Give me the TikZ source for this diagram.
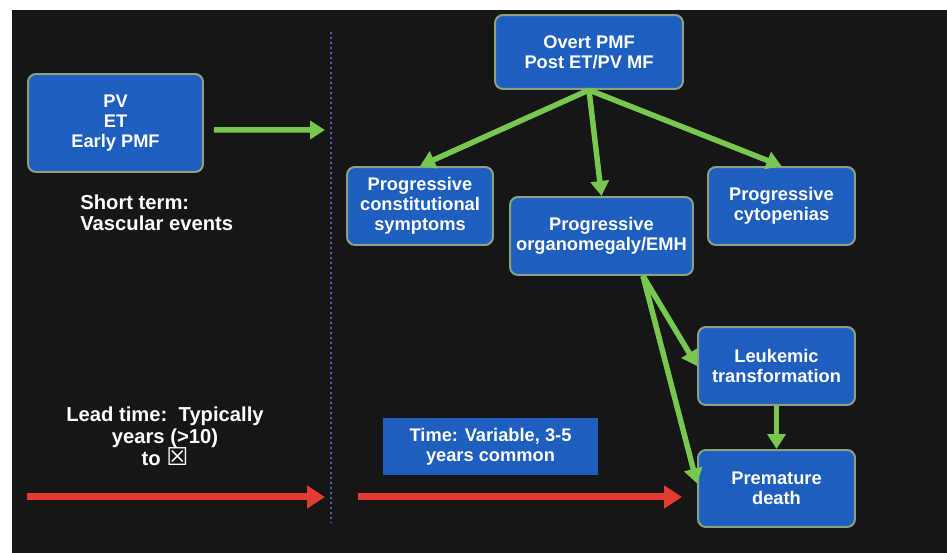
\documentclass[tikz,border=0pt]{standalone}
\usepackage{fontspec}
\setmainfont{Liberation Sans}
\newfontfamily\glyphfont{DejaVu Sans}
\usetikzlibrary{arrows.meta}
\definecolor{slideblack}{RGB}{22,22,22}
\definecolor{boxblue}{RGB}{30,94,190}
\definecolor{boxrim}{RGB}{140,160,130}
\definecolor{arrowgreen}{RGB}{120,200,80}
\definecolor{arrowred}{RGB}{226,60,50}
\definecolor{dotblue}{RGB}{70,100,180}
\tikzset{
  stagebox/.style={draw=boxrim, line width=0.04cm, fill=boxblue, rounded corners=0.16cm,
    text=white, font=\fontsize{10.4}{11.3}\selectfont\bfseries, align=center, inner sep=0pt},
  timebox/.style={fill=boxblue, text=white, font=\fontsize{10.4}{11.3}\selectfont\bfseries,
    align=center, inner sep=0pt},
  greenarrow/.style={draw=arrowgreen, line width=0.11cm, -{Triangle[length=0.3cm,width=0.36cm]}},
  redarrow/.style={draw=arrowred, line width=0.14cm, -{Triangle[length=0.36cm,width=0.44cm]}},
  slidetext/.style={text=white, font=\fontsize{11.5}{12.2}\selectfont\bfseries, inner sep=0pt}
}
\begin{document}
\begin{tikzpicture}[x=0.02cm,y=-0.02cm]
        \useasboundingbox (0,0) rectangle (947,553);
        % slide background
        \fill[slideblack] (12,10) rectangle (947,553);
        % divider
        \coordinate (divtop) at (331,32);
        \coordinate (divbot) at (331,522);
        \draw[dotblue, line width=0.05cm, dash pattern=on 0.04cm off 0.06cm] (divtop) -- (divbot);
        % left side
        \node[stagebox, minimum width=3.5cm, minimum height=1.96cm] (early) at (115.5,123) {PV\\ET\\Early PMF};
        \node[slidetext, anchor=west, align=left] (short) at (80,213) {Short term:\\Vascular events};
        \node[slidetext, align=center, font=\fontsize{11.5}{12.6}\selectfont\bfseries] (lead) at (165,436) {Lead time:\ \ Typically\\years (>10)\\to {\glyphfont\fontsize{14}{14}\selectfont ☒}};
        \coordinate (gtip) at (325,130);
        \draw[greenarrow] ([xshift=0.2cm,yshift=-0.14cm]early.east) -- (gtip);
        % time arrows
        \coordinate (leadtail) at (27,497);
        \coordinate (leadtip) at (325,497);
        \coordinate (vartail) at (358,497);
        \coordinate (vartip) at (682,497);
        \draw[redarrow] (leadtail) -- (leadtip);
        \draw[redarrow] (vartail) -- (vartip);
        \node[timebox, minimum width=4.3cm, minimum height=1.14cm] (vartime) at (490.5,446.5) {Time: Variable, 3-5\\years common};
        % right side
        \node[stagebox, minimum width=3.76cm, minimum height=1.48cm] (overt) at (589,52) {Overt PMF\\Post ET/PV MF};
        \node[stagebox, minimum width=2.92cm, minimum height=1.56cm] (const) at (420,206) {Progressive\\constitutional\\symptoms};
        \node[stagebox, minimum width=3.66cm, minimum height=1.56cm] (organo) at (601.5,236) {Progressive\\organomegaly/EMH};
        \node[stagebox, minimum width=2.94cm, minimum height=1.56cm] (cyto) at (781.5,206) {Progressive\\cytopenias};
        \node[stagebox, minimum width=3.14cm, minimum height=1.56cm] (leuk) at (776.5,366) {Leukemic\\transformation};
        \node[stagebox, minimum width=3.14cm, minimum height=1.54cm] (death) at (776.5,488.5) {Premature\\death};
        % progression
        \draw[greenarrow] (overt.south) -- (const.north);
        \draw[greenarrow] (overt.south) -- (organo.north);
        \draw[greenarrow] (overt.south) -- (cyto.north);
        \draw[greenarrow] ([xshift=0.83cm]organo.south) -- (leuk.west);
        \draw[greenarrow] ([xshift=0.83cm]organo.south) -- ([yshift=0.1cm]death.west);
        \draw[greenarrow] (leuk.south) -- (death.north);
    \end{tikzpicture}
\end{document}
